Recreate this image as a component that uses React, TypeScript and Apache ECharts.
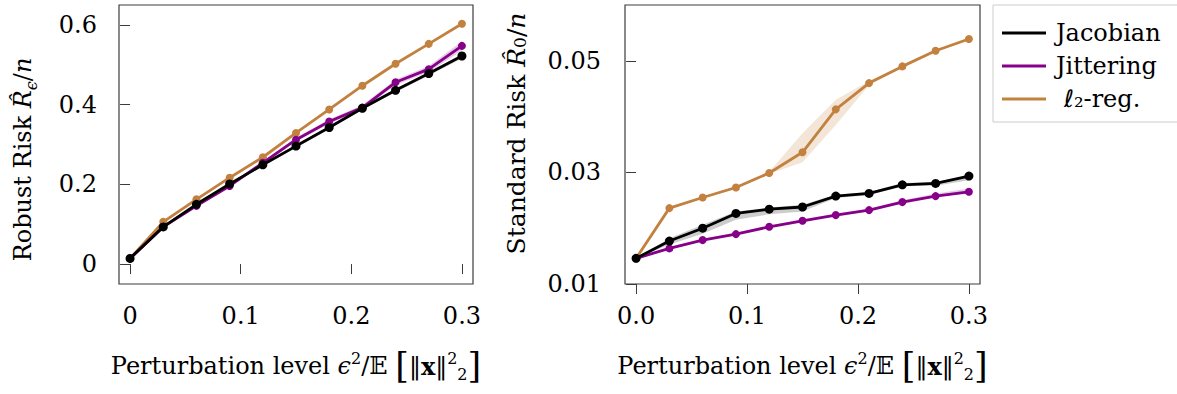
import React, { useEffect, useRef } from 'react';
import * as echarts from 'echarts';

// ---------- data ----------
const perturbation = [0, 0.03, 0.06, 0.09, 0.12, 0.15, 0.18, 0.21, 0.24, 0.27, 0.3];
const seriesNames = ['Jacobian', 'Jittering', 'ℓ₂-reg.'];

// Robust risk (left panel)
const robustJacobian = [0.0142, 0.0933, 0.15, 0.201, 0.249, 0.296, 0.3425, 0.391, 0.436, 0.478, 0.522];
const robustJacobianLo = [0.0142, 0.091, 0.147, 0.197, 0.245, 0.292, 0.338, 0.387, 0.431, 0.473, 0.516];
const robustJacobianHi = [0.0142, 0.095, 0.152, 0.204, 0.252, 0.299, 0.346, 0.395, 0.44, 0.482, 0.527];
const robustJitter = [0.0142, 0.0933, 0.146, 0.196, 0.254, 0.312, 0.3575, 0.3925, 0.456, 0.489, 0.5475];
const robustJitterLo = [0.0142, 0.091, 0.143, 0.193, 0.25, 0.307, 0.352, 0.387, 0.449, 0.481, 0.536];
const robustJitterHi = [0.0142, 0.096, 0.149, 0.2, 0.258, 0.317, 0.363, 0.399, 0.463, 0.497, 0.559];
const robustL2 = [0.0142, 0.106, 0.1625, 0.2167, 0.268, 0.329, 0.388, 0.4475, 0.5025, 0.5525, 0.603];
const robustL2Lo = [0.0142, 0.104, 0.1605, 0.2147, 0.266, 0.327, 0.386, 0.4455, 0.5005, 0.5505, 0.601];
const robustL2Hi = [0.0142, 0.108, 0.1645, 0.2187, 0.27, 0.331, 0.39, 0.4495, 0.5045, 0.5545, 0.605];

// Standard risk (right panel)
const stdJacobian = [0.0146, 0.0177, 0.02, 0.02265, 0.0234, 0.0238, 0.02575, 0.02624, 0.02778, 0.02803, 0.02934];
const stdJacobianLo = [0.0146, 0.0171, 0.019, 0.0215, 0.0225, 0.023, 0.0254, 0.0259, 0.0275, 0.0276, 0.0286];
const stdJacobianHi = [0.0146, 0.0182, 0.0206, 0.023, 0.0237, 0.0242, 0.026, 0.0265, 0.0281, 0.0283, 0.0295];
const stdJitter = [0.0146, 0.01638, 0.01787, 0.01894, 0.02025, 0.02133, 0.02235, 0.02324, 0.02468, 0.02575, 0.02652];
const stdJitterLo = [0.0146, 0.0162, 0.0177, 0.0188, 0.0201, 0.0212, 0.0222, 0.0231, 0.0245, 0.0256, 0.0263];
const stdJitterHi = [0.0146, 0.0166, 0.0181, 0.0192, 0.0205, 0.0216, 0.0226, 0.0235, 0.025, 0.0262, 0.0271];
const stdL2 = [0.0146, 0.0236, 0.0255, 0.0273, 0.0299, 0.0336, 0.0413, 0.046, 0.049, 0.0518, 0.0539];
const stdL2Lo = [0.0146, 0.0234, 0.0253, 0.0271, 0.0297, 0.0318, 0.0385, 0.0456, 0.0488, 0.0516, 0.0537];
const stdL2Hi = [0.0146, 0.0238, 0.0257, 0.0275, 0.0301, 0.037, 0.043, 0.0464, 0.0492, 0.052, 0.0541];

// ticks
const leftXTicks = [0, 0.1, 0.2, 0.3];
const leftXLabels = ['0', '0.1', '0.2', '0.3'];
const rightXTicks = [0, 0.1, 0.2, 0.3];
const rightXLabels = ['0.0', '0.1', '0.2', '0.3'];
const leftYTicks = [0, 0.2, 0.4, 0.6];
const leftYLabels = ['0', '0.2', '0.4', '0.6'];
const rightYTicks = [0.01, 0.03, 0.05];
const rightYLabels = ['0.01', '0.03', '0.05'];

// ---------- styles ----------
const FONT = '"DejaVu Serif", "DejaVu Sans", serif';
const FS = 24;
const C_JAC = '#000000';
const C_JIT = '#860088';
const C_L2 = '#c2813f';
const B_JAC = 'rgba(0,0,0,0.2)';
const B_JIT = 'rgba(134,0,136,0.2)';
const B_L2 = 'rgba(194,129,63,0.2)';
const FRAME = '#3c3c3c';

const lookup = (ticks: number[], labels: string[]) => (v: number) => {
  const i = ticks.findIndex((t) => Math.abs(t - v) < 1e-9);
  return i >= 0 ? labels[i] : '';
};

const pairs = (xs: number[], ys: number[]) => xs.map((x, i) => [x, ys[i]]);

function band(ax: number, xs: number[], lo: number[], hi: number[], color: string) {
  return {
    type: 'custom',
    xAxisIndex: ax,
    yAxisIndex: ax,
    silent: true,
    z: 1,
    clip: true,
    data: xs.map((x, i) => [x, lo[i], hi[i]]),
    encode: { x: 0, y: [1, 2] },
    renderItem: (params: any, api: any) => {
      if (params.dataIndex !== 0) return null;
      const pts: number[][] = [];
      for (let i = 0; i < xs.length; i++) pts.push(api.coord([xs[i], hi[i]]));
      for (let i = xs.length - 1; i >= 0; i--) pts.push(api.coord([xs[i], lo[i]]));
      return { type: 'polygon', shape: { points: pts }, style: { fill: color } };
    },
  };
}

function line(ax: number, name: string, ys: number[], color: string, z: number, size: number) {
  return {
    type: 'line',
    name,
    xAxisIndex: ax,
    yAxisIndex: ax,
    data: pairs(perturbation, ys),
    z,
    symbol: 'circle',
    symbolSize: size,
    showSymbol: true,
    lineStyle: { color, width: 2.8 },
    itemStyle: { color },
  };
}

function makeRich(fs: number, lh: number) {
  const sm = Math.round(fs * 0.68);
  return {
    t: { fontFamily: FONT, fontSize: fs, color: '#000', lineHeight: lh },
    i: { fontFamily: FONT, fontSize: fs, fontStyle: 'italic', color: '#000', lineHeight: lh },
    b: { fontFamily: FONT, fontSize: fs, fontWeight: 'bold', color: '#000', lineHeight: lh },
    br: { fontFamily: FONT, fontSize: Math.round(fs * 1.45), color: '#000', lineHeight: lh },
    sub: { fontFamily: FONT, fontSize: sm, color: '#000', verticalAlign: 'bottom', lineHeight: lh, padding: [0, 0, 4, 0] },
    subi: { fontFamily: FONT, fontSize: sm, fontStyle: 'italic', color: '#000', verticalAlign: 'bottom', lineHeight: lh },
    sup: { fontFamily: FONT, fontSize: sm, color: '#000', verticalAlign: 'top', lineHeight: lh, padding: [4, 0, 0, 0] },
  };
}

const xName = '{t|Perturbation level }{i|ϵ}{sup|2}{t|/𝔼 }{br|[}{t|‖}{b|x}{t|‖}{sup|2}{sub|2}{br|]}';

function xAxis(grid: number, ticks: number[], labels: string[]) {
  return {
    type: 'value',
    gridIndex: grid,
    min: -0.01,
    max: 0.31,
    axisLine: { show: false },
    splitLine: { show: false },
    axisTick: { show: true, length: 10, lineStyle: { color: FRAME, width: 1 }, customValues: ticks },
    axisLabel: {
      customValues: ticks,
      formatter: lookup(ticks, labels),
      margin: 20,
      fontFamily: FONT,
      fontSize: FS,
      color: '#000',
    },
    name: xName,
    nameLocation: 'middle',
    nameGap: 62,
    nameTextStyle: { fontFamily: FONT, fontSize: FS, color: '#000', rich: makeRich(FS, 40) },
  };
}

function yAxis(grid: number, min: number, max: number, ticks: number[], labels: string[], name: string, gap: number, margin: number, pad: number[], fs: number) {
  return {
    type: 'value',
    gridIndex: grid,
    min,
    max,
    axisLine: { show: false },
    splitLine: { show: false },
    axisTick: { show: true, length: 10, lineStyle: { color: FRAME, width: 1 }, customValues: ticks },
    axisLabel: {
      customValues: ticks,
      formatter: lookup(ticks, labels),
      margin,
      fontFamily: FONT,
      fontSize: FS,
      color: '#000',
    },
    name,
    nameLocation: 'middle',
    nameRotate: 90,
    nameGap: gap,
    nameTextStyle: { fontFamily: FONT, fontSize: fs, color: '#000', rich: makeRich(fs, 32), padding: pad },
  };
}

export default function App() {
  const ref = useRef<HTMLDivElement>(null);
  useEffect(() => {
    if (!ref.current) return;
    const chart = echarts.init(ref.current, undefined, { renderer: 'svg' });
    chart.setOption({
      animation: false,
      backgroundColor: '#ffffff',
      grid: [
        { left: 119, top: 5, width: 354, height: 279, show: true, borderColor: FRAME, borderWidth: 1.2, backgroundColor: 'transparent' },
        { left: 625, top: 5, width: 355, height: 279, show: true, borderColor: FRAME, borderWidth: 1.2, backgroundColor: 'transparent' },
      ],
      xAxis: [xAxis(0, leftXTicks, leftXLabels), xAxis(1, rightXTicks, rightXLabels)],
      yAxis: [
        yAxis(0, -0.05, 0.65, leftYTicks, leftYLabels, '{t|Robust Risk }{i|R̂}{subi|ϵ}{t|/}{i|n}', 80, 22, [0, 30, 0, 0], 24),
        yAxis(1, 0.01, 0.06, rightYTicks, rightYLabels, '{t|Standard Risk }{i|R̂}{sub|0}{t|/}{i|n}', 93, 24, [0, 0, 0, 22], 25),
      ],
      legend: {
        data: seriesNames,
        orient: 'vertical',
        left: 993,
        top: 5,
        padding: [14, 17, 9, 9],
        itemGap: 5,
        itemWidth: 44,
        itemHeight: 3,
        icon: 'rect',
        borderColor: '#cccccc',
        borderWidth: 1,
        textStyle: {
          fontFamily: FONT,
          fontSize: FS,
          color: '#000',
          lineHeight: 28,
          rich: {
            n: { fontFamily: FONT, fontSize: FS, color: '#000', lineHeight: 28, padding: [0, 0, 0, 5] },
            p: { fontFamily: FONT, fontSize: FS, color: '#000', lineHeight: 28, padding: [0, 0, 0, 13] },
          },
        },
        formatter: (n: string) => (n === 'ℓ₂-reg.' ? '{p|' + n + '}' : '{n|' + n + '}'),
      },
      series: [
        band(0, perturbation, robustL2Lo, robustL2Hi, B_L2),
        band(0, perturbation, robustJitterLo, robustJitterHi, B_JIT),
        band(0, perturbation, robustJacobianLo, robustJacobianHi, B_JAC),
        line(0, seriesNames[2], robustL2, C_L2, 3, 8),
        line(0, seriesNames[1], robustJitter, C_JIT, 4, 8),
        line(0, seriesNames[0], robustJacobian, C_JAC, 5, 9),
        band(1, perturbation, stdL2Lo, stdL2Hi, B_L2),
        band(1, perturbation, stdJitterLo, stdJitterHi, B_JIT),
        band(1, perturbation, stdJacobianLo, stdJacobianHi, B_JAC),
        line(1, seriesNames[2], stdL2, C_L2, 3, 8),
        line(1, seriesNames[1], stdJitter, C_JIT, 4, 8),
        line(1, seriesNames[0], stdJacobian, C_JAC, 5, 9),
      ],
    });
    return () => chart.dispose();
  }, []);
  return <div ref={ref} style={{ position: 'absolute', left: 0, top: 0, width: 1177, height: 394 }} />;
}
